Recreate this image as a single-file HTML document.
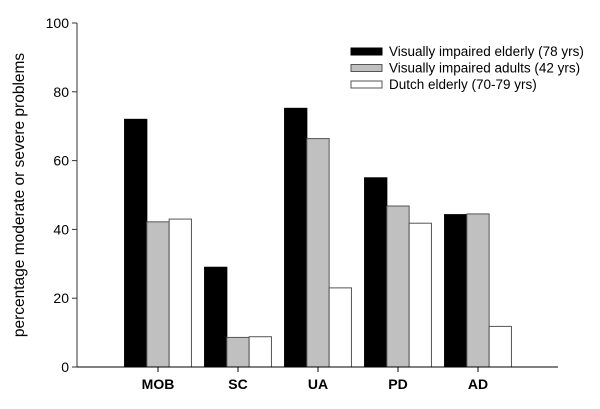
<!DOCTYPE html>
<html><head><meta charset="utf-8"><style>
body{margin:0;background:#fff;}
svg{font-family:"Liberation Sans",Arial,sans-serif;}
</style></head><body>
<svg id="chart" width="600" height="404" viewBox="0 0 600 404" xmlns="http://www.w3.org/2000/svg"></svg>
<script>
const categories = ["MOB","SC","UA","PD","AD"];
const elderly = [72,29,75.2,55,44.3];
const adults = [42.2,8.6,66.4,46.8,44.5];
const dutch = [43,8.8,23,41.8,11.8];
const yTicks = [0,20,40,60,80,100];
const seriesNames = ["Visually impaired elderly (78 yrs)","Visually impaired adults (42 yrs)","Dutch elderly (70-79 yrs)"];
const fills = ["#000","#c0c0c0","#fff"];

const svg = document.getElementById('chart');
const NS = "http://www.w3.org/2000/svg";
const x0 = 77, x1 = 558, yBase = 367, yTop = 23;
const y = v => yBase - v / 100 * (yBase - yTop);
const xc = i => 158 + i * 80;
const bw = 22.3;
function mk(tag, attrs, parent){const e=document.createElementNS(NS,tag);for(const k in attrs)e.setAttribute(k,attrs[k]);(parent||svg).appendChild(e);return e;}

const series = [elderly, adults, dutch];
series.forEach((arr, s) => {
  arr.forEach((v, i) => {
    const r = mk('rect', {x: xc(i) - 1.5*bw + s*bw, y: y(v), width: bw, height: yBase - y(v), fill: fills[s], stroke: s===0?'#000':'#555', 'stroke-width': 1});
    
    
  });
});

const ya = mk('line', {x1: x0, y1: yTop, x2: x0, y2: yBase, stroke: '#333', 'stroke-width': 1});


const xa = mk('line', {x1: x0, y1: yBase, x2: x1, y2: yBase, stroke: '#000', 'stroke-width': 1});



yTicks.forEach(t => {
  const l = mk('line', {x1: x0 - 5, y1: y(t), x2: x0, y2: y(t), stroke: '#333'});
  
  
  const tx = mk('text', {x: x0 - 8, y: y(t) + 5, 'text-anchor': 'end', 'font-size': 14, fill: '#000'});
  tx.textContent = t;
  
  
});

categories.forEach((c, i) => {
  const l = mk('line', {x1: xc(i), y1: yBase, x2: xc(i), y2: yBase + 5, stroke: '#000'});
  
  
  const tx = mk('text', {x: xc(i), y: yBase + 22, 'text-anchor': 'middle', 'font-size': 14, 'font-weight': 'bold'});
  tx.textContent = c;
  
  
});

const yt = mk('text', {x: 0, y: 0, 'text-anchor': 'middle', 'font-size': 15.5, transform: 'translate(24,' + ((yBase+yTop)/2) + ') rotate(-90)'});
yt.textContent = 'percentage moderate or severe problems';



seriesNames.forEach((n, s) => {
  const yy = 48 + s * 16.5;
  const r = mk('rect', {x: 351, y: yy, width: 31, height: 7, fill: fills[s], stroke: s===0?'#000':'#555'});
  
  
  const tx = mk('text', {x: 389, y: yy + 8, 'font-size': 13.5});
  tx.textContent = n;
  
  
});
</script>
</body></html>
